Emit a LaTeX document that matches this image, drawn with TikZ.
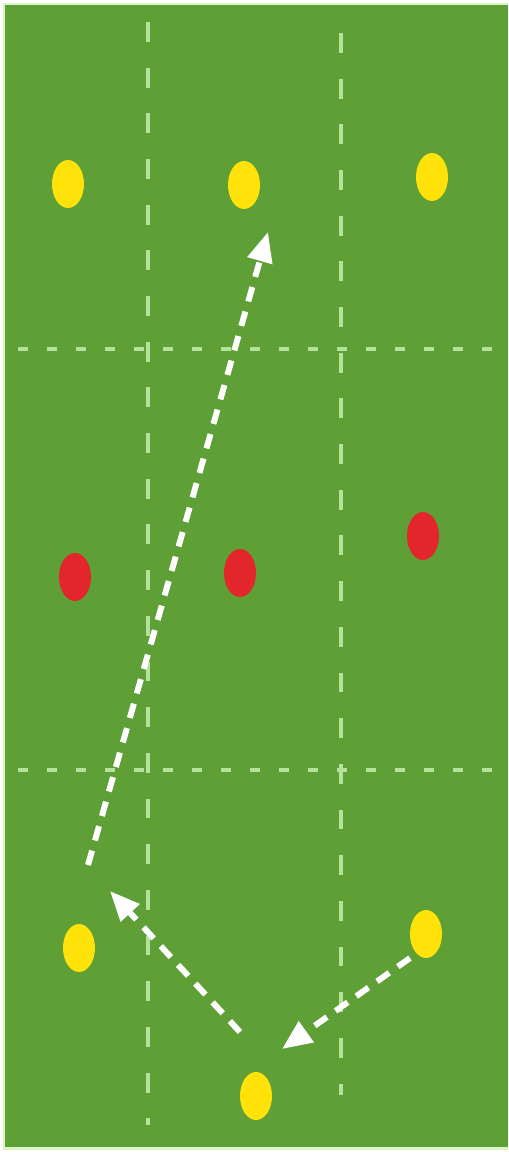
\documentclass[tikz,border=0pt]{standalone}
\usepackage{tikz}
\usetikzlibrary{calc,arrows.meta}
\usetikzlibrary{shapes.geometric}
\definecolor{pitch-green}{HTML}{5E9F36}
\definecolor{pitch-line}{HTML}{B4E29A}
\definecolor{pitch-edge}{HTML}{D9F5C4}
\definecolor{cone-yellow}{HTML}{FFE20A}
\definecolor{cone-red}{HTML}{E3262B}
\tikzset{
    cone/.style={ellipse, minimum width=0.64cm, minimum height=0.96cm, inner sep=0pt},
    gridline/.style={pitch-line, line width=2.3pt},
    run/.style={white, line width=3.4pt, dash pattern=on 8.5pt off 6pt,
        -{Triangle[width=14pt, length=17pt]}},
}
\begin{document}
\begin{tikzpicture}[x=0.02cm, y=-0.02cm]
    \useasboundingbox (0,0) rectangle (508,1152);
    % Pitch
    \fill[white] (0,0) rectangle (508,1152);
    \fill[pitch-green] (5,5) rectangle (508,1147);
    \draw[pitch-edge, line width=1.7pt] (4,4) -- (508,4);
    \draw[pitch-edge, line width=1.7pt] (4,4) -- (4,1148) -- (508,1148);
    % Grid
    \draw[gridline, dash pattern=on 11.3pt off 14.7pt] (148,22) -- (148,1125);
    \draw[gridline, dash pattern=on 11.3pt off 14.7pt] (341,33) -- (341,1095);
    \draw[gridline, dash pattern=on 5.7pt off 10.8pt] (18,349) -- (505,349);
    \draw[gridline, dash pattern=on 5.7pt off 10.8pt] (18,770) -- (505,770);
    % Cones
    \foreach \name/\x/\y/\c in {y1/68/184/cone-yellow, y2/244/185/cone-yellow, y3/432/177/cone-yellow,
        r1/75/577/cone-red, r2/240/573/cone-red, r3/423/536/cone-red,
        y4/79/948/cone-yellow, y5/426/934/cone-yellow, y6/256/1096/cone-yellow}
        \node[cone, fill=\c] (\name) at (\x,\y) {};
    % Runs
    \coordinate (a1) at (88,865);
    \coordinate (a2) at (268,232);
    \coordinate (b1) at (240,1032);
    \coordinate (b2) at (110,891);
    \coordinate (c1) at (410,958);
    \coordinate (c2) at (282,1049);
    \draw[run] (a1) -- (a2);
    \draw[run] (b1) -- (b2);
    \draw[run] (c1) -- (c2);
\end{tikzpicture}
\end{document}
